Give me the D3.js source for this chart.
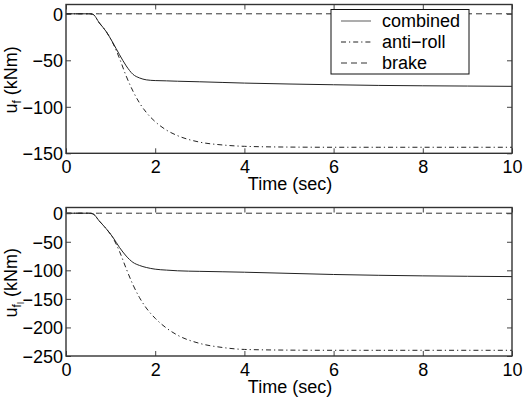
<!DOCTYPE html>
<html><head><meta charset="utf-8">
<script src="https://cdn.jsdelivr.net/npm/d3@7/dist/d3.min.js"></script>
<style>
html,body{margin:0;padding:0;background:#fff;}
svg{display:block;font-family:"Liberation Sans",Arial,Helvetica,sans-serif;}
</style></head>
<body>
<svg id="chart" width="525" height="398"></svg>
<script>
// ---- data ----
const time = [0,0.5,0.6,0.75,0.9,1.05,1.2,1.35,1.5,1.65,1.8,2.0,2.25,2.5,3,3.5,4,5,6,7,8,9,10];
const topCombined = [0,0,-0.5,-10,-19,-31,-44,-56,-65,-69,-71,-71.8,-72.1,-72.5,-73.1,-73.8,-74.5,-75.5,-76.3,-77,-77.4,-77.7,-78];
const topAntiRoll = [0,0,-0.5,-10,-19,-31.5,-48,-67,-83,-96,-106,-116,-125,-131,-138,-141,-142.5,-143.3,-143.5,-143.5,-143.5,-143.5,-143.5];
const topBrake    = time.map(() => 0);
const botCombined = [0,0,-1,-14,-27,-42,-60,-75,-86,-91.5,-95,-98,-99.6,-100.8,-101.8,-102.5,-103.3,-105.3,-107.3,-108.7,-109.7,-110.4,-111];
const botAntiRoll = [0,0,-1,-14,-27,-43,-67,-97,-125,-148,-166,-184,-201,-213.5,-228,-235,-238.5,-239.7,-240,-240,-240,-240,-240];
const botBrake    = time.map(() => 0);
const xTicks = [0,2,4,6,8,10];
const topYTicks = [0,-50,-100,-150];
const botYTicks = [0,-50,-100,-150,-200,-250];
const legendLabels = ["combined","anti\u2212roll","brake"];
const xLabel = "Time (sec)";

const svg = d3.select("#chart");
const FS = 18;
const FONT = '"Liberation Sans",Arial,Helvetica,sans-serif';
const styles = [
  {stroke:"#222", dash:null, w:1},
  {stroke:"#222", dash:"5,3,1.2,3", w:1},
  {stroke:"#333", dash:"6,4", w:1}
];
const fmt = v => (v < 0 ? "\u2212" + Math.abs(v) : String(v));

function panel(opts){
  const {top, bottom, ydom, yticks, series, sub2, legend} = opts;
  const left = 66, right = 512;
  const x = d3.scaleLinear().domain([0,10]).range([left,right]);
  const y = d3.scaleLinear().domain(ydom).range([bottom, top]);
  const g = svg.append("g");

  const clipId = "clip" + Math.round(top);
  svg.append("clipPath").attr("id", clipId).append("rect")
    .attr("x", left).attr("y", top).attr("width", right-left).attr("height", bottom-top);

  const line = d3.line().x((d,i)=>x(time[i])).y(d=>y(d)).curve(d3.curveMonotoneX);
  const lg = g.append("g").attr("clip-path", `url(#${clipId})`);
  [2,1,0].forEach(k => {
    lg.append("path").attr("d", line(series[k]))
      .attr("fill","none").attr("stroke",styles[k].stroke)
      .attr("stroke-width",styles[k].w)
      .attr("stroke-dasharray",styles[k].dash);
  });

  // axes (ticks inside)
  const tl = 5;
  const axB = d3.axisBottom(x).tickValues(xTicks).tickSizeInner(-tl).tickSizeOuter(0).tickFormat(d=>d).tickPadding(7);
  const axT = d3.axisTop(x).tickValues(xTicks).tickSizeInner(-tl).tickSizeOuter(0).tickFormat("");
  const axL = d3.axisLeft(y).tickValues(yticks).tickSizeInner(-tl).tickSizeOuter(0).tickFormat(fmt).tickPadding(3);
  const axR = d3.axisRight(y).tickValues(yticks).tickSizeInner(-tl).tickSizeOuter(0).tickFormat("");
  const gb = g.append("g").attr("transform",`translate(0,${bottom})`).call(axB);
  const gt = g.append("g").attr("transform",`translate(0,${top})`).call(axT);
  const gl = g.append("g").attr("transform",`translate(${left},0)`).call(axL);
  const gr = g.append("g").attr("transform",`translate(${right},0)`).call(axR);
  [gb,gt,gl,gr].forEach(a => {
    a.attr("font-size",FS).attr("font-family",FONT);
    a.select(".domain").remove();
    a.selectAll(".tick line").attr("stroke","#444");
    a.selectAll("text").attr("font-size",FS).attr("fill","#000").attr("font-family",FONT);
  });
  gl.selectAll(".tick text").attr("dy","0.36em");

  g.append("rect").attr("x",left).attr("y",top).attr("width",right-left).attr("height",bottom-top)
    .attr("fill","none").attr("stroke","#333").attr("stroke-width",1.4);

  // x label
  g.append("text").attr("x",(left+right)/2 + 1).attr("y",bottom+37)
    .attr("text-anchor","middle").attr("font-size",FS).attr("font-family",FONT).text(xLabel);

  // y label (rotated)
  const cy = (top+bottom)/2 + 1;
  const yl = g.append("text").attr("transform",`translate(17,${cy}) rotate(-90)`)
    .attr("text-anchor","middle").attr("font-size",FS).attr("font-family",FONT);
  yl.append("tspan").text("u");
  yl.append("tspan").attr("font-size",12).attr("dy",4).text("f");
  if (sub2) yl.append("tspan").attr("font-size",9).attr("dy",3).text(sub2);
  yl.append("tspan").attr("dy", sub2 ? -7 : -4).text(" (kNm)");

  if (legend){
    const lx = 331, ly = 9.5, lw = 138, lh = 64.5;
    const lgd = g.append("g");
    lgd.append("rect").attr("x",lx).attr("y",ly).attr("width",lw).attr("height",lh)
      .attr("fill","#fff").attr("stroke","#111").attr("stroke-width",1);
    legendLabels.forEach((lab,i) => {
      const yy = ly + 11.5 + i*21;
      lgd.append("line").attr("x1",lx+10).attr("x2",lx+40).attr("y1",yy).attr("y2",yy)
        .attr("stroke", i===0 ? "#999" : styles[i].stroke)
        .attr("stroke-width", i===0 ? 1.6 : 1)
        .attr("stroke-dasharray", styles[i].dash);
      lgd.append("text").attr("x",lx+51).attr("y",yy+6).attr("font-size",FS).attr("font-family",FONT).text(lab);
    });
  }
}

panel({top:4.5, bottom:153.3, ydom:[-150,10], yticks:topYTicks,
       series:[topCombined, topAntiRoll, topBrake], sub2:null, legend:true});
panel({top:207.5, bottom:356, ydom:[-250,10], yticks:botYTicks,
       series:[botCombined, botAntiRoll, botBrake], sub2:"l", legend:false});
</script>
</body></html>
